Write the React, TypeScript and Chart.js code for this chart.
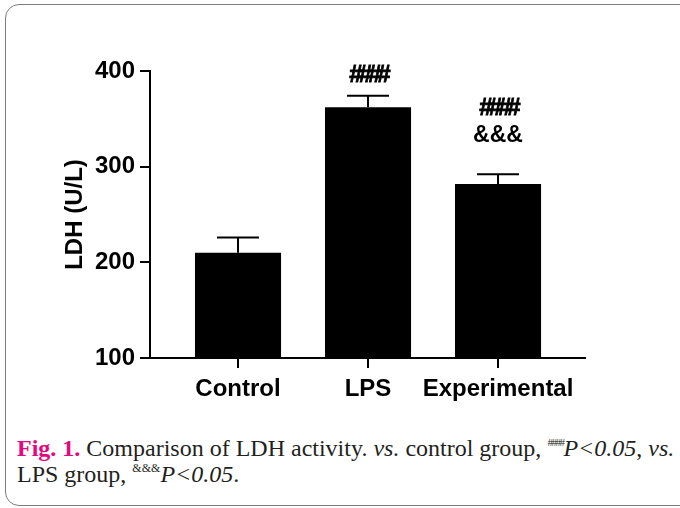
import React, { useEffect, useRef } from "react";
import { Chart, registerables } from "chart.js";

Chart.register(...registerables);

const categories = ["Control", "LPS", "Experimental"];
const meanValues = [210, 362, 282];
const errorValues = [16, 12, 10];
const significanceMarks: string[][] = [[], ["####"], ["####", "&&&"]];
const yTicks = [100, 200, 300, 400];

const FONT = "'Liberation Sans', Arial, sans-serif";

const errorBarPlugin = {
  id: "errorBars",
  afterDatasetsDraw(chart: any, _args: any, opts: any) {
    const ctx = chart.ctx;
    const meta = chart.getDatasetMeta(0);
    const yScale = chart.scales.y;
    ctx.save();
    ctx.strokeStyle = "#000";
    ctx.fillStyle = "#000";
    ctx.lineWidth = 2;
    meta.data.forEach((bar: any, i: number) => {
      const x = bar.x;
      const top = yScale.getPixelForValue(meanValues[i] + errorValues[i]);
      ctx.beginPath();
      ctx.moveTo(x, bar.y);
      ctx.lineTo(x, top);
      ctx.moveTo(x - opts.capHalf, top);
      ctx.lineTo(x + opts.capHalf, top);
      ctx.stroke();
      const marks = significanceMarks[i];
      ctx.textAlign = "center";
      ctx.textBaseline = "alphabetic";
      let y = top - opts.gaps[i];
      for (let k = marks.length - 1; k >= 0; k--) {
        const m = marks[k];
        const isHash = m.startsWith("#");
        ctx.font = isHash ? `bold 24px ${FONT}` : `bold 23px ${FONT}`;
        (ctx as any).letterSpacing = isHash ? "-4px" : "0px";
        ctx.fillText(m, x, y);
        if (isHash) {
          ctx.lineWidth = 0.8;
          ctx.strokeText(m, x, y);
          ctx.lineWidth = 2;
        }
        y -= opts.lineStep;
      }
    });
    ctx.restore();
  },
};

export default function App() {
  const canvasRef = useRef<HTMLCanvasElement | null>(null);

  useEffect(() => {
    if (!canvasRef.current) return;
    const tickFont = { family: FONT, size: 24, weight: "bold" as const };
    const chart = new Chart(canvasRef.current, {
      type: "bar",
      data: {
        datasets: [
          {
            data: meanValues.map((v, i) => ({ x: i, y: v })),
            backgroundColor: "#000",
            borderWidth: 0,
            barPercentage: 0.662,
            categoryPercentage: 1,
          },
        ],
      },
      options: {
        animation: false,
        responsive: false,
        maintainAspectRatio: false,
        layout: { padding: { left: 61, top: 71, right: 95, bottom: 0 } },
        plugins: {
          legend: { display: false },
          tooltip: { enabled: false },
          errorBars: { capHalf: 21, gaps: [0, 14, 32], lineStep: 27 },
        } as any,
        scales: {
          x: {
            type: "linear",
            offset: false,
            min: -0.677,
            max: 2.669,
            afterBuildTicks: (s: any) => {
              s.ticks = categories.map((_, i) => ({ value: i }));
            },
            afterFit: (s: any) => {
              s.height = 62;
            },
            ticks: {
              callback: (v: any) => categories[Math.round(Number(v))],
              font: tickFont,
              color: "#000",
              padding: 7,
              autoSkip: false,
              maxRotation: 0,
            },
            grid: {
              offset: false,
              drawOnChartArea: false,
              drawTicks: true,
              tickLength: 10,
              color: "#000",
              lineWidth: 2,
            },
            border: { display: true, color: "#000", width: 2 },
          },
          y: {
            min: 100,
            max: 400,
            afterBuildTicks: (s: any) => {
              s.ticks = yTicks.map((v) => ({ value: v }));
            },
            afterFit: (s: any) => {
              s.width = 89;
            },
            ticks: { font: tickFont, color: "#000", padding: 5 },
            grid: { drawOnChartArea: false, drawTicks: true, tickLength: 10, color: "#000", lineWidth: 2 },
            border: { display: true, color: "#000", width: 2 },
            title: {
              display: true,
              text: "LDH (U/L)",
              font: tickFont,
              color: "#000",
              padding: 0,
            },
          },
        },
      } as any,
      plugins: [errorBarPlugin],
    });
    return () => chart.destroy();
  }, []);

  return (
    <div
      style={{
        position: "fixed",
        left: 0,
        top: 0,
        width: 680,
        height: 508,
        overflow: "hidden",
        background: "#fff",
      }}
    >
      <div
        style={{
          position: "absolute",
          left: 5,
          top: 4,
          width: 690,
          height: 500,
          border: "1.5px solid #7d7d7d",
          borderRadius: 14,
        }}
      />
      <canvas
        ref={canvasRef}
        width={680}
        height={420}
        style={{ position: "absolute", left: 0, top: 0, width: 680, height: 420 }}
      />
      <div
        style={{
          position: "absolute",
          left: 17,
          top: 435,
          fontFamily: "'Liberation Serif', 'Times New Roman', serif",
          fontSize: 24,
          lineHeight: "26px",
          color: "#231f20",
          whiteSpace: "nowrap",
        }}
      >
        <span style={{ color: "#e4087e", fontWeight: "bold" }}>Fig. 1.</span> Comparison of LDH activity.{" "}
        <i>vs.</i> control group,{" "}
        <sup style={{ fontSize: 11, letterSpacing: -1.5, verticalAlign: "top", lineHeight: "14px" }}>####</sup>
        <i>P&lt;0.05</i>, <i>vs.</i>
        <br />
        LPS group,{" "}
        <sup style={{ fontSize: 12, verticalAlign: "top", lineHeight: "14px" }}>&amp;&amp;&amp;</sup>
        <i>P&lt;0.05</i>.
      </div>
    </div>
  );
}
